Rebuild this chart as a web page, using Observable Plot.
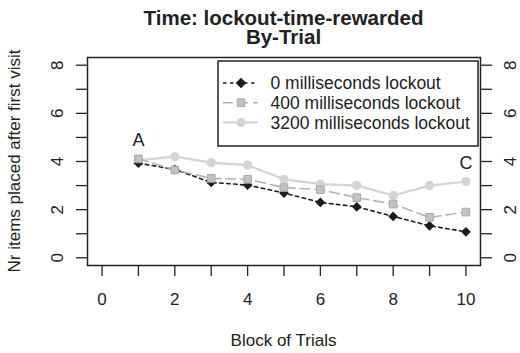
<!DOCTYPE html>
<html>
<head>
<meta charset="utf-8">
<script src="https://cdn.jsdelivr.net/npm/d3@7"></script>
<script src="https://cdn.jsdelivr.net/npm/@observablehq/plot@0.6"></script>
<style>
  html, body { margin: 0; padding: 0; background: white; }
  #chart { width: 520px; height: 353px; }
</style>
</head>
<body>
<div id="chart"></div>
<script>
const blocks = [1, 2, 3, 4, 5, 6, 7, 8, 9, 10];
const lockout0 = [3.93, 3.67, 3.13, 3.02, 2.69, 2.30, 2.12, 1.72, 1.33, 1.08];
const lockout400 = [4.11, 3.65, 3.30, 3.26, 2.92, 2.83, 2.50, 2.23, 1.68, 1.90];
const lockout3200 = [4.05, 4.20, 3.95, 3.85, 3.26, 3.06, 3.00, 2.59, 3.00, 3.17];
const seriesNames = ["0 milliseconds lockout", "400 milliseconds lockout", "3200 milliseconds lockout"];
const xTickLabels = [0, 2, 4, 6, 8, 10];
const yTickLabels = [0, 2, 4, 6, 8];
const xMinorTicks = [0, 1, 2, 3, 4, 5, 6, 7, 8, 9, 10];
const yMinorTicks = [0, 1, 2, 3, 4, 5, 6, 7, 8];
const annX = [1, 10];
const annY = [4.9, 3.93];
const annText = ["A", "C"];

const toRows = (vals) => blocks.map((b, i) => ({x: b, y: vals[i]}));
const s0 = toRows(lockout0), s400 = toRows(lockout400), s3200 = toRows(lockout3200);
const ann = annX.map((x, i) => ({x, y: annY[i], t: annText[i]}));

const FONT = "'Liberation Sans', Arial, Helvetica, sans-serif";
const C0 = "#1c1c1c", C400 = "#b4b4b4", C3200 = "#d4d4d4";
const blank = () => "";

const plot = Plot.plot({
  width: 520, height: 353,
  marginLeft: 87, marginRight: 40, marginTop: 57, marginBottom: 88,
  style: {fontFamily: FONT, fontSize: "17px", background: "white", color: "#222"},
  x: {domain: [-0.4, 10.4]},
  y: {domain: [-0.32, 8.32]},
  marks: [
    Plot.axisX({anchor: "bottom", ticks: xMinorTicks, tickSize: 11, tickFormat: blank, label: null, stroke: "#222", strokeWidth: 1.3}),
    Plot.axisY({anchor: "left", ticks: yMinorTicks, tickSize: 11, tickFormat: blank, label: null, stroke: "#222", strokeWidth: 1.3}),
    Plot.axisY({anchor: "right", ticks: yMinorTicks, tickSize: 11, tickFormat: blank, label: null, stroke: "#222", strokeWidth: 1.3}),
    Plot.text(xTickLabels, {x: d => d, text: d => String(d), frameAnchor: "bottom", dy: 27, lineAnchor: "top", fontSize: 17, fill: "#222"}),
    Plot.text(yTickLabels, {y: d => d, text: d => String(d), frameAnchor: "left", dx: -30, rotate: -90, textAnchor: "middle", lineAnchor: "middle", fontSize: 17, fill: "#222"}),
    Plot.text(yTickLabels, {y: d => d, text: d => String(d), frameAnchor: "right", dx: 30, rotate: -90, textAnchor: "middle", lineAnchor: "middle", fontSize: 17, fill: "#222"}),
    Plot.line(s3200, {x: "x", y: "y", stroke: C3200, strokeWidth: 2.2}),
    Plot.dot(s3200, {x: "x", y: "y", symbol: "circle", r: 4.6, fill: C3200}),
    Plot.line(s0, {x: "x", y: "y", stroke: C0, strokeWidth: 1.6, strokeDasharray: "3.5,3.5"}),
    Plot.dot(s0, {x: "x", y: "y", symbol: "diamond2", r: 4.4, fill: C0}),
    Plot.line(s400, {x: "x", y: "y", stroke: C400, strokeWidth: 1.6, strokeDasharray: "10,5"}),
    Plot.dot(s400, {x: "x", y: "y", symbol: "square", r: 4.3, fill: "#c2c2c2", stroke: "#aaaaaa", strokeWidth: 1}),
    Plot.text(ann, {x: "x", y: "y", text: "t", fontSize: 18, fill: "#222"}),
    Plot.frame({stroke: "#222", strokeWidth: 1.5})
  ]
});

document.getElementById("chart").appendChild(plot);

(function () {
  const svg = d3.select(plot);
  const xr = plot.scale("x").range, yr = plot.scale("y").range;
  const fLeft = Math.min(...xr), fRight = Math.max(...xr);
  const fTop = Math.min(...yr), fBottom = Math.max(...yr);
  const cx = (fLeft + fRight) / 2;

  // Title (two lines in one text element)
  const title = svg.append("text").attr("text-anchor", "middle")
    .attr("font-family", FONT).attr("font-weight", "bold").attr("font-size", 20.5).attr("fill", "#222");
  title.append("tspan").attr("x", cx).attr("y", 25).text("Time: lockout-time-rewarded");
  title.append("tspan").attr("x", cx).attr("y", 43.5).text("By-Trial");

  // Axis titles
  svg.append("text").attr("x", cx).attr("y", 346).attr("text-anchor", "middle")
    .attr("font-family", FONT).attr("font-size", 17).attr("fill", "#222")
    .text("Block of Trials");
  svg.append("text").attr("transform", `translate(20,${(fTop + fBottom) / 2}) rotate(-90)`)
    .attr("text-anchor", "middle")
    .attr("font-family", FONT).attr("font-size", 17).attr("fill", "#222")
    .text("Nr items placed after first visit");

  // Legend
  const lg = svg.append("g");
  const lw = 260, lh = 85;
  const lx = fRight - 2 - lw, ly = fTop + 4;
  lg.append("rect").attr("x", lx).attr("y", ly).attr("width", lw).attr("height", lh)
    .attr("fill", "white").attr("stroke", "#222").attr("stroke-width", 1.5);
  const styles = [
    {stroke: C0, dash: "3.5,3.5", w: 1.6, sym: "diamond"},
    {stroke: C400, dash: "10,5", w: 1.6, sym: "square"},
    {stroke: C3200, dash: null, w: 2.2, sym: "circle"}
  ];
  seriesNames.forEach((name, i) => {
    const yy = ly + 22 + i * 19.7;
    const sx = lx + 23;
    const line = lg.append("line").attr("x1", lx + 5).attr("x2", lx + 40).attr("y1", yy).attr("y2", yy)
      .attr("stroke", styles[i].stroke).attr("stroke-width", styles[i].w);
    if (styles[i].dash) line.attr("stroke-dasharray", styles[i].dash);
    if (styles[i].sym === "diamond") {
      lg.append("path").attr("d", d3.symbol(d3.symbolDiamond2, 4.8 * 4.8 * Math.PI)())
        .attr("transform", `translate(${sx},${yy})`).attr("fill", C0);
    } else if (styles[i].sym === "square") {
      lg.append("path").attr("d", d3.symbol(d3.symbolSquare, 4.3 * 4.3 * Math.PI)())
        .attr("transform", `translate(${sx},${yy})`).attr("fill", "#c2c2c2").attr("stroke", "#aaaaaa");
    } else {
      lg.append("circle").attr("cx", sx).attr("cy", yy).attr("r", 4.6).attr("fill", C3200);
    }
    lg.append("text").attr("x", lx + 52.5).attr("y", yy).attr("dy", "0.35em")
      .attr("text-anchor", "start")
      .attr("font-family", FONT).attr("font-size", 17.5).attr("fill", "#222").text(name);
  });
})();
</script>
</body>
</html>
